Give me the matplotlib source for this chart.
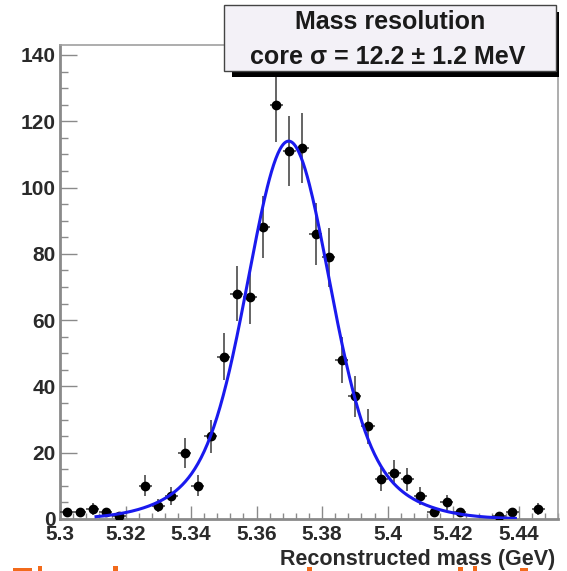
import numpy as np
import matplotlib
matplotlib.use("Agg")
import matplotlib.pyplot as plt
from matplotlib.patches import Rectangle
from matplotlib.ticker import MultipleLocator, FixedLocator

plt.rcParams['font.family'] = ['Liberation Sans', 'DejaVu Sans']

# ---- data (bin centers in GeV, counts) ----
bin_width = 0.004
bin_centers = [5.302, 5.306, 5.310, 5.314, 5.318, 5.322, 5.326, 5.330, 5.334, 5.338,
               5.342, 5.346, 5.350, 5.354, 5.358, 5.362, 5.366, 5.370, 5.374, 5.378,
               5.382, 5.386, 5.390, 5.394, 5.398, 5.402, 5.406, 5.410, 5.414, 5.418,
               5.422, 5.426, 5.430, 5.434, 5.438, 5.442, 5.446, 5.450]
counts = [2, 2, 3, 2, 1, 0, 10, 4, 7, 20,
          10, 25, 49, 68, 67, 88, 125, 111, 112, 86,
          79, 48, 37, 28, 12, 14, 12, 7, 2, 5,
          2, 0, 0, 1, 2, 0, 3, 0]

# fit function parameters (double Gaussian)
fit_mean = 5.3698
core_amp = 89.0
core_sigma = 0.0117
wide_amp = 25.0
wide_sigma = 0.022
fit_range = (5.311, 5.439)

x_ticks = [5.30, 5.32, 5.34, 5.36, 5.38, 5.40, 5.42, 5.44]
x_tick_labels = ["5.3", "5.32", "5.34", "5.36", "5.38", "5.4", "5.42", "5.44"]
y_ticks = [0, 20, 40, 60, 80, 100, 120, 140]

title_line1 = "Mass resolution"
title_line2 = "core \u03c3 = 12.2 \u00b1 1.2 MeV"
x_label = "Reconstructed mass (GeV)"

# ---- figure ----
W, H = 567, 571
fig = plt.figure(figsize=(W / 100, H / 100), dpi=100)
fig.patch.set_facecolor('white')
ax = fig.add_axes([60 / W, 1 - 519 / H, (558 - 60) / W, (519 - 45) / H])

xc = np.array(bin_centers)
yc = np.array(counts, dtype=float)
mask = yc > 0
ax.errorbar(xc[mask], yc[mask], yerr=np.sqrt(yc[mask]), xerr=bin_width / 2,
            fmt='o', color='black', ecolor='#3a3a3a', elinewidth=1.1,
            markersize=6, capsize=0, zorder=3)

xf = np.linspace(fit_range[0], fit_range[1], 400)
yf = (core_amp * np.exp(-0.5 * ((xf - fit_mean) / core_sigma) ** 2)
      + wide_amp * np.exp(-0.5 * ((xf - fit_mean) / wide_sigma) ** 2))
ax.plot(xf, yf, color='#1a1aee', lw=2.2, zorder=4)

ax.set_xlim(5.3, 5.452)
ax.set_ylim(0, 143)

ax.xaxis.set_major_locator(FixedLocator(x_ticks))
ax.set_xticklabels(x_tick_labels)
ax.xaxis.set_minor_locator(MultipleLocator(0.004))
ax.yaxis.set_major_locator(FixedLocator(y_ticks))
ax.yaxis.set_minor_locator(MultipleLocator(5))

gray = '#8a8a8a'
for s in ['left', 'bottom']:
    ax.spines[s].set_color(gray)
    ax.spines[s].set_linewidth(2.0)
for s in ['top', 'right']:
    ax.spines[s].set_color('#a0a0a0')
    ax.spines[s].set_linewidth(1.2)

ax.tick_params(axis='both', which='both', direction='in', color=gray, width=1.0,
               top=False, right=False, labelcolor='#2a2a2a')
ax.tick_params(axis='y', which='major', length=12, pad=3)
ax.tick_params(axis='y', which='minor', length=6)
ax.tick_params(axis='x', which='major', length=9.5, pad=4)
ax.tick_params(axis='x', which='minor', length=4.5)
for lab in ax.get_xticklabels() + ax.get_yticklabels():
    lab.set_fontsize(15)
    lab.set_fontweight('bold')

# x label
fig.text(555 / W, 1 - 560 / H, x_label, ha='right', va='center',
         fontsize=15.5, fontweight='bold', color='#2a2a2a')

# stats box with shadow
shadow = Rectangle((232 / W, 1 - 77 / H), 327 / W, 65 / H, transform=fig.transFigure,
                   facecolor='black', edgecolor='none', zorder=5)
box = Rectangle((224 / W, 1 - 71 / H), 332 / W, 66 / H, transform=fig.transFigure,
                facecolor='#f3f1f7', edgecolor='#444444', lw=1.0, zorder=6)
fig.patches.extend([shadow, box])
fig.text(390 / W, 1 - 22 / H, title_line1, ha='center', va='center', fontsize=18,
         fontweight='bold', color='#1a1a1a', zorder=7)
fig.text(388 / W, 1 - 57 / H, title_line2, ha='center', va='center', fontsize=18,
         fontweight='bold', color='#1a1a1a', zorder=7)

# cut-off orange fragments at bottom edge
for (x0, w, h) in [(13, 19, 3), (38, 4, 5), (113, 5, 5), (307, 5, 4), (458, 5, 4), (473, 4, 5), (520, 8, 3)]:
    fig.patches.append(Rectangle((x0 / W, 0), w / W, h / H, transform=fig.transFigure,
                                 facecolor='#f26a1b', edgecolor='none', zorder=5))

fig.savefig('out.png', dpi=100)
